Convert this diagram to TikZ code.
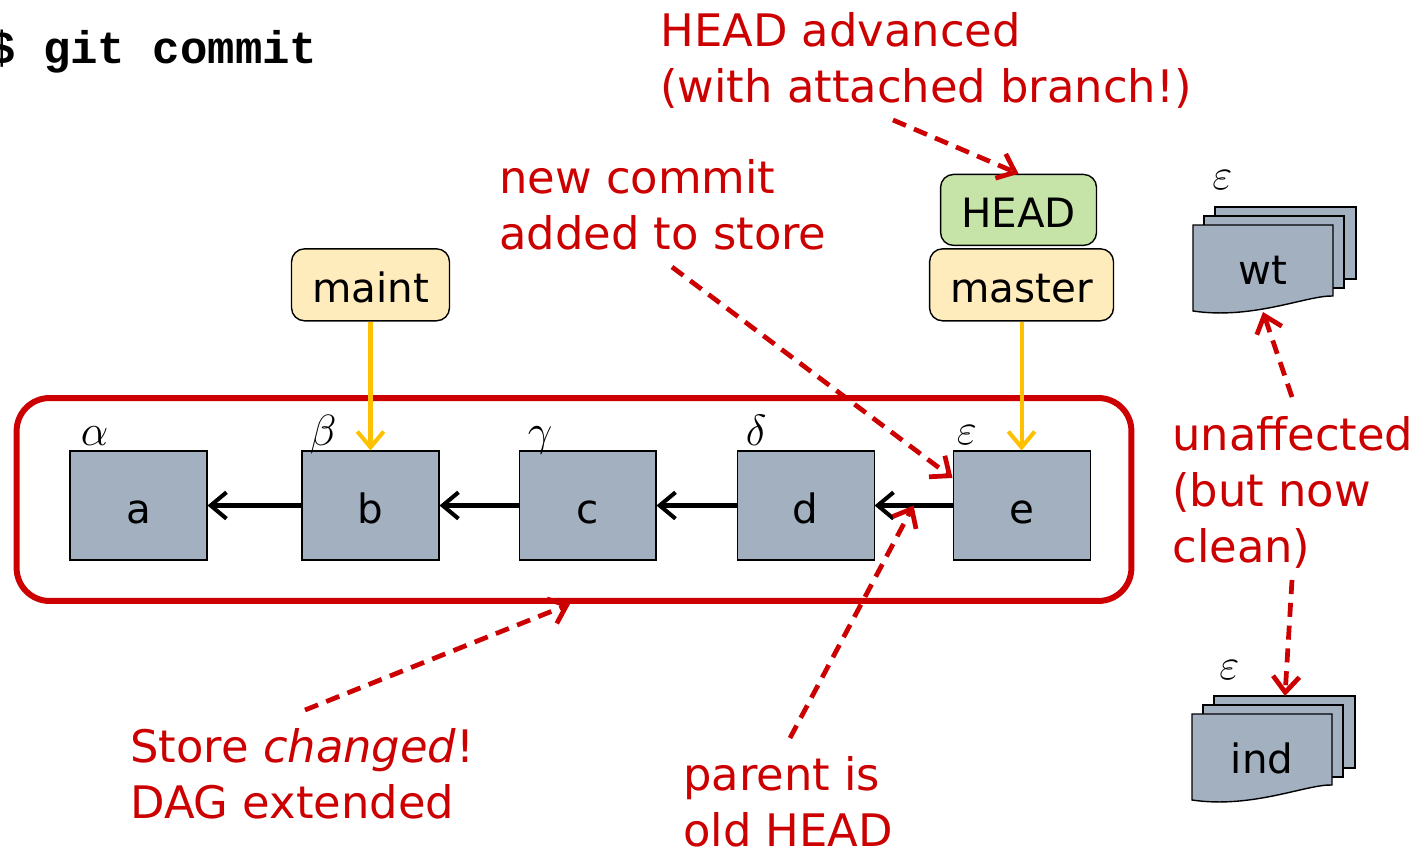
\documentclass[tikz,border=0pt]{standalone}
\usepackage{fontspec}
\setmainfont{DejaVu Sans}
\newfontfamily\codefont{Liberation Mono}
\usepackage{xcolor}
\usepackage{tikz}
\usetikzlibrary{positioning,calc,arrows.meta}

\definecolor{commitgray}{HTML}{A2B0C0}
\definecolor{refyellow}{HTML}{FFECBC}
\definecolor{headgreen}{HTML}{C6E4A8}
\definecolor{ptrorange}{HTML}{FFC000}
\definecolor{noteRed}{HTML}{CC0000}

\tikzset{
  pics/sheetstack/.style={code={
    \draw[sheet] (22,-18) rectangle ++(141,72);
    \draw[sheet] (11,-9) rectangle ++(140,72);
    \draw[sheet] (0,0) -- (140,0) -- (140,71) .. controls (115,70) and (60,95) .. (0,86) -- cycle;
    \coordinate (-top) at (93,-18);
    \coordinate (-bottom) at (70,87);
  }}
}

\begin{document}
\begin{tikzpicture}[
    x=0.02cm, y=-0.02cm,
    >={Straight Barb[length=9pt,width=15pt]},
    commit/.style={rectangle, draw, line width=0.6pt, fill=commitgray, minimum width=2.74cm, minimum height=2.18cm, text height=20pt, text depth=0pt, font=\fontsize{23}{28}\selectfont},
    ref/.style={rectangle, draw, rounded corners=0.26cm, line width=0.8pt, fill=refyellow, minimum height=1.44cm, text height=20pt, text depth=0pt, font=\fontsize{23}{28}\selectfont},
    greek/.style={anchor=base west, inner sep=0pt, font=\fontsize{27}{30}\selectfont},
    note/.style={anchor=north west, inner sep=0pt, align=left, text=noteRed, font=\fontsize{25.5}{31.9}\selectfont},
    doclabel/.style={inner sep=0pt, font=\fontsize{23}{28}\selectfont},
    sheet/.style={draw, line width=0.8pt, fill=commitgray},
    nav/.style={->, line width=2.3pt},
    ptr/.style={->, line width=2.3pt, draw=ptrorange},
    hint/.style={->, draw=noteRed, line width=2.7pt, dash pattern=on 8pt off 5pt}]
    \useasboundingbox (0,0) rectangle (1420,848);

    % the store
    \node[draw=noteRed, line width=3.4pt, rounded corners=0.66cm, minimum width=22.3cm, minimum height=4.06cm] (store) at (574,499.5) {};

    \node[commit] (a) at (138.5,505.5) {a};
    \node[commit, right=1.88cm of a] (b) {b};
    \node[commit, right=1.58cm of b] (c) {c};
    \node[commit, right=1.6cm of c] (d) {d};
    \node[commit, right=1.56cm of d] (e) {e};

    \node[greek] (alpha) at ($(a.north west)+(11,-5)$) {$\alpha$};
    \node[greek] (beta) at ($(b.north west)+(8,-5)$) {$\beta$};
    \node[greek] (gamma) at ($(c.north west)+(9,-5)$) {$\gamma$};
    \node[greek] (delta) at ($(d.north west)+(9,-5)$) {$\delta$};
    \node[greek] (eps) at ($(e.north west)+(4,-6)$) {$\varepsilon$};

    \draw[nav] (b) -- (a);
    \draw[nav] (c) -- (b);
    \draw[nav] (d) -- (c);
    \draw[nav] (e) -- (d);

    % branches
    \node[ref, minimum width=3.16cm, above=2.58cm of b] (maint) {maint};
    \node[ref, minimum width=3.68cm, above=2.58cm of e] (master) {master};
    \node[ref, fill=headgreen, minimum width=3.12cm, minimum height=1.42cm, above=0.04cm of master, xshift=-0.06cm] (head) {HEAD};
    \draw[ptr] (maint) -- (b);
    \draw[ptr] (master) -- (e);

    % working tree and index
    \pic (wtstack) at (1193,225) {sheetstack};
    \node[doclabel] (wt) at (1263,270) {wt};
    \node[greek] (wteps) at (1212,189) {$\varepsilon$};
    \pic (indstack) at (1192,714) {sheetstack};
    \node[doclabel] (ind) at (1262,758) {ind};
    \node[greek] (indeps) at (1219,679) {$\varepsilon$};

    \node[anchor=base west, inner sep=0pt, font=\codefont\bfseries\fontsize{26}{30}\selectfont] (cmd) at (-12,64) {\$ git commit};

    % notes
    \node[note] (headnote) at (660,12) {HEAD advanced\\(with attached branch!)};
    \node[note] (newnote) at (499,159) {new commit\\added to store};
    \node[note] (unaff) at (1172,416) {unaffected\\(but now\\clean)};
    \node[note] (storenote) at (130,728) {Store \textit{changed}!\\DAG extended};
    \node[note] (parentnote) at (683,756) {parent is\\old HEAD};

    \coordinate (headtail) at (893,120);
    \coordinate (newtail) at (672,267);
    \coordinate (storetail) at (305,710);
    \coordinate (parenttail) at (790,738);
    \coordinate (wttail) at (1292,397);
    \coordinate (indtail) at (1292,580);

    \draw[hint] (headtail) -- (head.north);
    \draw[hint] (newtail) -- ($(e.north west)!0.25!(e.south west)$);
    \draw[hint] (parenttail) -- ($(d.east)!0.5!(e.west)$);
    \draw[hint] (storetail) -- ($(store.south)+(-4,0)$);
    \draw[hint] (wttail) -- (wtstack-bottom);
    \draw[hint] (indtail) -- (indstack-top);
\end{tikzpicture}
\end{document}
